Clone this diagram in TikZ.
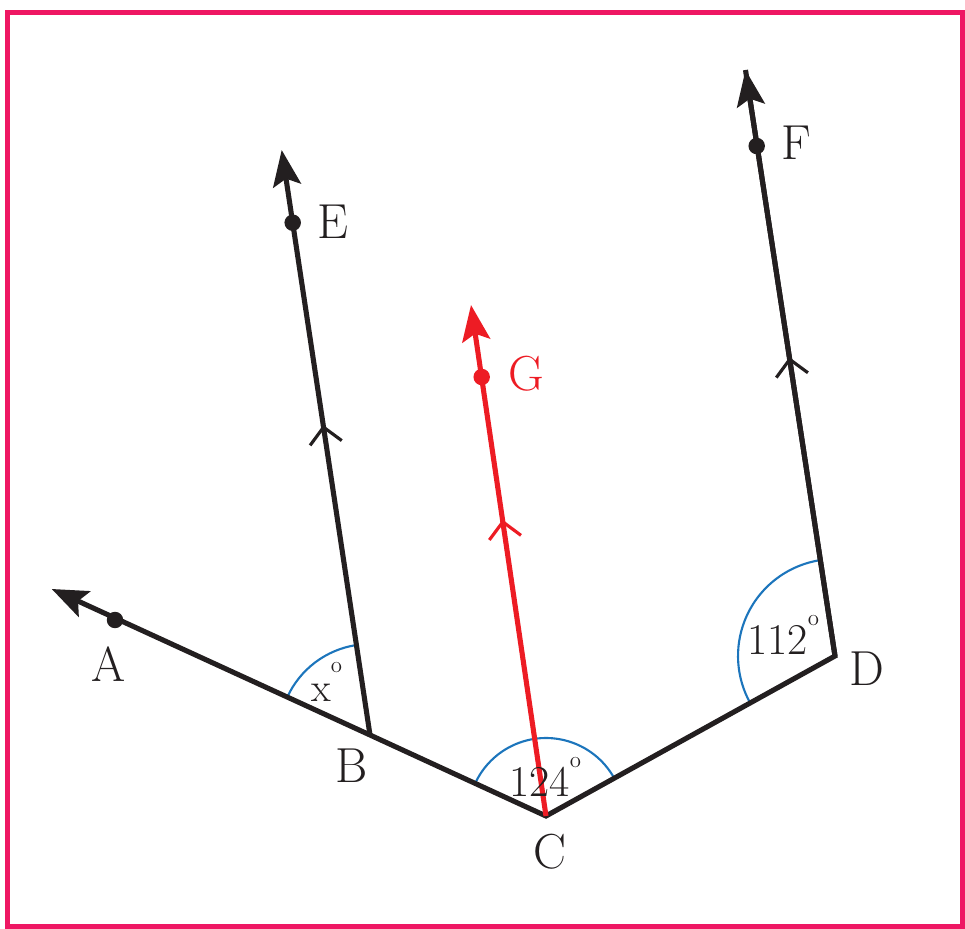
\documentclass[tikz,border=0pt]{standalone}
\usepackage{fontspec}
\usepackage{tikz}
\usetikzlibrary{arrows.meta,decorations.markings,angles}

\definecolor{inkblack}{HTML}{231F20}
\definecolor{linered}{HTML}{ED1C24}
\definecolor{arcblue}{HTML}{1C75BC}
\definecolor{framepink}{HTML}{EE1763}

\newcommand{\degsup}{\raisebox{17pt}{\fontsize{13}{13}\selectfont o}}

\tikzset{bigtip/.tip={Stealth[length=7.2mm,width=5.6mm,inset=1.4mm]}}

\begin{document}
\begin{tikzpicture}[
  x=0.02cm, y=-0.02cm,
  ray/.style={line width=2.9pt, draw=inkblack, line join=miter},
  redray/.style={line width=2.9pt, draw=linered},
  mid/.style={postaction={decorate}, decoration={markings,
      mark=at position #1 with {\arrow{Straight Barb[length=3.2mm,width=6.4mm,line width=1.8pt]}}}},
  dot/.style={circle, fill=#1, inner sep=0pt, minimum size=3.3mm},
  lbl/.style={font=\fontsize{28}{30}\selectfont\addfontfeatures{FakeStretch=0.8}, text=inkblack, anchor=base, inner sep=0pt},
  num/.style={font=\fontsize{25}{28}\selectfont\addfontfeatures{FakeStretch=0.93}, text=inkblack, anchor=base west, inner sep=0pt},
  anglearc/.style={draw=arcblue, line width=1.2pt},
  pinkframe/.style={draw=framepink, line width=3.4pt}
]
\useasboundingbox (0,0) rectangle (965,929);
\draw[pinkframe] (7.5,12.5) rectangle (963,927);

\coordinate (B) at (370,735);
\coordinate (C) at (546,816);
\coordinate (D) at (835,656);
\coordinate (Atip) at (51.7,589);
\coordinate (Etip) at (281.7,150);
\coordinate (Ftip) at (745.5,70);
\coordinate (Gtip) at (471,305);

\pic[anglearc, angle radius=1.82cm] {angle=Etip--B--Atip};
\pic[anglearc, angle radius=1.56cm] {angle=D--C--B};
\pic[anglearc, angle radius=1.94cm] {angle=Ftip--D--C};

\draw[ray, bigtip-bigtip] (Atip) -- (B) -- (C) -- (D) -- (Ftip);
\draw[ray, -bigtip, mid=0.53] (B) -- (Etip);
\path[ray, mid=0.51] (D) -- (Ftip);
\draw[redray, -bigtip, mid=0.58, color=linered] (C) -- (Gtip);

\node[dot=inkblack] (A) at (115,620) {};
\node[dot=inkblack] (E) at (292.7,222.7) {};
\node[dot=inkblack] (F) at (756.7,146) {};
\node[dot=linered] (G) at (481.7,377) {};

\node[lbl] (labA) at (108.5,682) {A};
\node[lbl] (labB) at (351.7,783) {B};
\node[lbl] (labC) at (550,868) {C};
\node[lbl] (labD) at (866.7,685) {D};
\node[lbl] (labE) at (332.7,239) {E};
\node[lbl] (labF) at (796.7,160) {F};
\node[lbl, text=linered] (labG) at (526,391) {G};

\node[num, font=\fontsize{23}{26}\selectfont] (angB) at (311,702) {x\degsup};
\node[num] (angC) at (509,797) {124\degsup};
\node[num] (angD) at (747,655) {112\degsup};
\end{tikzpicture}
\end{document}
